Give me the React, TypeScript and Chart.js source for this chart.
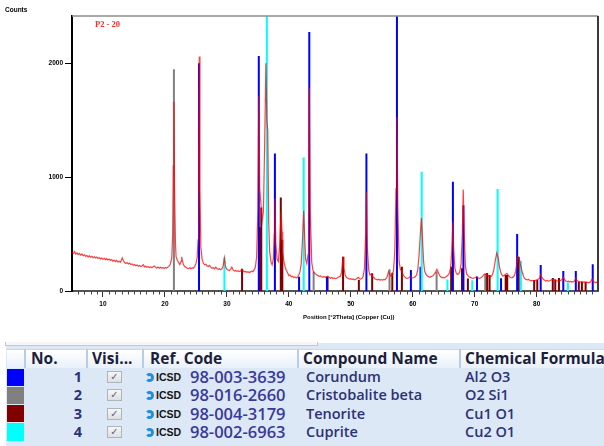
import React, { useEffect, useRef } from "react";
import { Chart, registerables } from "chart.js";

Chart.register(...registerables);

// Observed pattern P2 - 20: [2Theta, counts]
const profile: [number, number][] = [
  [5.0, 340], [5.2, 330], [5.4, 345], [5.6, 325], [5.8, 335], [6.0, 320], [6.2, 330], [6.4, 315], [6.6, 325], [6.8, 310],
  [7.0, 318], [7.2, 305], [7.4, 312], [7.6, 300], [7.8, 308], [8.0, 296], [8.2, 305], [8.4, 292], [8.6, 300], [8.8, 290],
  [9.0, 298], [9.2, 286], [9.4, 294], [9.6, 282], [9.8, 290], [10.0, 280], [10.2, 288], [10.4, 276], [10.6, 284], [10.8, 272],
  [11.0, 280], [11.2, 268], [11.4, 276], [11.6, 262], [11.8, 272], [12.0, 258], [12.2, 268], [12.4, 255], [12.6, 262], [12.8, 252],
  [13.0, 275], [13.1, 290], [13.3, 265], [13.5, 250], [13.7, 242], [13.9, 250], [14.1, 238], [14.3, 245], [14.5, 232], [14.7, 238],
  [14.9, 226], [15.1, 232], [15.3, 222], [15.5, 228], [15.7, 218], [15.9, 224], [16.1, 214], [16.3, 220], [16.5, 230], [16.7, 212],
  [16.9, 218], [17.1, 208], [17.3, 214], [17.5, 206], [17.7, 212], [17.9, 204], [18.1, 214], [18.3, 220], [18.5, 208], [18.7, 202],
  [18.9, 210], [19.1, 200], [19.3, 208], [19.5, 200], [19.7, 206], [19.9, 198], [20.1, 206], [20.3, 202], [20.5, 212], [20.7, 220],
  [20.9, 240], [21.1, 290], [21.25, 500], [21.35, 1100], [21.45, 1660], [21.55, 900], [21.7, 420], [21.8, 300], [22.0, 270], [22.2, 250],
  [22.4, 232], [22.6, 260], [22.7, 300], [22.8, 270], [23.0, 230], [23.2, 215], [23.4, 208], [23.6, 200], [23.8, 196], [24.0, 204],
  [24.2, 195], [24.4, 205], [24.6, 200], [24.8, 215], [25.0, 240], [25.2, 290], [25.35, 450], [25.45, 1200], [25.55, 2060], [25.65, 900],
  [25.8, 380], [26.0, 280], [26.2, 245], [26.4, 230], [26.6, 235], [26.8, 220], [27.0, 215], [27.2, 225], [27.4, 210], [27.6, 200],
  [27.8, 205], [28.0, 195], [28.2, 210], [28.4, 198], [28.6, 190], [28.8, 196], [29.0, 186], [29.2, 195], [29.4, 220], [29.6, 290],
  [29.8, 210], [30.0, 190], [30.2, 185], [30.4, 180], [30.6, 190], [30.8, 210], [31.0, 185], [31.2, 175], [31.4, 180], [31.6, 172],
  [31.8, 178], [32.0, 170], [32.2, 175], [32.4, 190], [32.6, 178], [32.8, 168], [33.0, 172], [33.2, 165], [33.4, 170], [33.6, 162],
  [33.8, 168], [34.0, 175], [34.2, 170], [34.4, 185], [34.6, 210], [34.8, 300], [35.0, 700], [35.15, 1710], [35.3, 900], [35.5, 760],
  [35.7, 620], [35.9, 700], [36.1, 1300], [36.3, 2000], [36.45, 1500], [36.6, 1410], [36.75, 600], [36.9, 350], [37.1, 260], [37.3, 230],
  [37.5, 280], [37.65, 500], [37.75, 810], [37.9, 420], [38.1, 280], [38.3, 260], [38.5, 380], [38.75, 700], [38.9, 520], [39.0, 340],
  [39.2, 260], [39.4, 210], [39.6, 180], [39.8, 160], [40.0, 135], [40.2, 140], [40.4, 125], [40.6, 130], [40.8, 118], [41.0, 124],
  [41.2, 115], [41.4, 122], [41.6, 140], [41.8, 170], [42.0, 240], [42.2, 450], [42.4, 704], [42.55, 480], [42.7, 280], [42.9, 240],
  [43.1, 320], [43.2, 900], [43.3, 1780], [43.45, 700], [43.7, 250], [43.9, 180], [44.1, 160], [44.3, 150], [44.5, 140], [44.7, 135],
  [44.9, 128], [45.1, 132], [45.3, 125], [45.5, 120], [45.7, 128], [45.9, 118], [46.1, 125], [46.3, 130], [46.5, 120], [46.7, 112],
  [46.9, 118], [47.1, 110], [47.3, 115], [47.5, 108], [47.7, 112], [47.9, 118], [48.1, 125], [48.3, 130], [48.5, 160], [48.65, 250],
  [48.75, 300], [48.9, 200], [49.1, 140], [49.3, 118], [49.6, 110], [49.8, 104], [50.0, 108], [50.2, 100], [50.4, 106], [50.6, 98],
  [50.8, 104], [51.0, 112], [51.2, 120], [51.4, 108], [51.6, 104], [51.8, 112], [52.0, 130], [52.2, 200], [52.4, 500], [52.52, 871],
  [52.65, 400], [52.9, 180], [53.1, 140], [53.3, 150], [53.5, 130], [53.7, 118], [53.9, 108], [54.1, 102], [54.3, 98], [54.5, 104],
  [54.7, 96], [54.9, 100], [55.1, 95], [55.3, 102], [55.5, 98], [55.7, 110], [55.9, 130], [56.1, 170], [56.3, 150], [56.5, 130],
  [56.7, 140], [56.9, 180], [57.1, 350], [57.3, 900], [57.45, 1530], [57.6, 700], [57.8, 260], [58.0, 190], [58.2, 175], [58.4, 150],
  [58.6, 130], [58.8, 118], [59.0, 110], [59.2, 112], [59.4, 118], [59.6, 125], [59.8, 118], [60.0, 115], [60.2, 118], [60.4, 125],
  [60.6, 140], [60.8, 180], [61.0, 300], [61.25, 520], [61.4, 640], [61.55, 480], [61.75, 260], [61.9, 180], [62.1, 150], [62.3, 135],
  [62.5, 128], [62.7, 120], [62.9, 124], [63.1, 130], [63.3, 135], [63.5, 150], [63.7, 165], [63.9, 190], [64.1, 165], [64.3, 140],
  [64.5, 125], [64.7, 118], [64.9, 120], [65.1, 115], [65.3, 122], [65.5, 130], [65.7, 140], [65.9, 155], [66.1, 200], [66.3, 350],
  [66.48, 608], [66.6, 380], [66.8, 200], [67.0, 160], [67.2, 145], [67.4, 150], [67.6, 170], [67.8, 240], [68.0, 500], [68.15, 892],
  [68.3, 520], [68.5, 220], [68.7, 150], [68.9, 135], [69.1, 125], [69.3, 120], [69.5, 115], [69.7, 110], [69.9, 114], [70.1, 118],
  [70.3, 124], [70.5, 115], [70.7, 110], [70.9, 114], [71.1, 120], [71.3, 130], [71.5, 145], [71.7, 150], [71.9, 145], [72.1, 140],
  [72.3, 130], [72.5, 125], [72.7, 130], [72.9, 150], [73.1, 190], [73.3, 260], [73.55, 333], [73.8, 290], [74.0, 210], [74.2, 165],
  [74.4, 140], [74.6, 132], [74.8, 138], [75.0, 148], [75.2, 155], [75.4, 140], [75.6, 125], [75.8, 118], [76.0, 115], [76.2, 122],
  [76.4, 135], [76.6, 170], [76.8, 240], [76.95, 300], [77.15, 290], [77.35, 240], [77.55, 195], [77.7, 160], [77.9, 125], [78.1, 108],
  [78.3, 102], [78.5, 98], [78.7, 102], [78.9, 95], [79.1, 90], [79.3, 94], [79.5, 88], [79.7, 92], [79.9, 96], [80.1, 100],
  [80.3, 105], [80.5, 115], [80.65, 145], [80.9, 115], [81.1, 100], [81.3, 94], [81.5, 88], [81.7, 92], [81.9, 86], [82.1, 90],
  [82.3, 95], [82.5, 100], [82.7, 104], [82.9, 98], [83.1, 92], [83.3, 88], [83.5, 84], [83.7, 88], [83.9, 94], [84.1, 100],
  [84.3, 120], [84.5, 100], [84.7, 88], [84.9, 82], [85.1, 86], [85.3, 80], [85.5, 84], [85.7, 78], [85.9, 82], [86.1, 88],
  [86.3, 110], [86.5, 94], [86.7, 86], [86.9, 82], [87.1, 78], [87.3, 82], [87.5, 76], [87.7, 80], [87.9, 74], [88.1, 78],
  [88.3, 72], [88.5, 76], [88.7, 80], [88.95, 105], [89.1, 86], [89.3, 78], [89.5, 74], [89.7, 78], [89.9, 72],
];

// Reference patterns (stick positions [2Theta], heights [counts])
const corundum: [number, number][] = [
  [25.5, 2000], [35.15, 2064], [37.75, 1207], [41.65, 125], [43.3, 2275], [46.15, 125], [52.52, 1207], [57.45, 2500],
  [59.7, 184], [61.25, 213], [66.48, 959], [68.18, 754], [70.37, 128], [74.25, 112], [76.85, 500], [80.65, 228],
  [84.3, 175], [86.32, 175], [89.05, 236],
];
const cristobalite: [number, number][] = [
  [21.45, 1947], [44.0, 170], [56.25, 190], [63.85, 170], [71.7, 150],
];
const tenorite: [number, number][] = [
  [32.45, 196], [35.35, 560], [35.55, 734], [38.7, 822], [38.95, 450], [46.25, 125], [48.75, 301], [51.3, 96],
  [53.45, 155], [56.7, 160], [58.25, 213], [66.2, 213], [67.95, 200], [68.9, 110], [72.0, 158], [72.4, 140],
  [75.0, 140], [75.25, 140], [77.1, 300], [79.6, 96], [80.1, 96], [82.6, 114], [83.0, 100], [83.6, 114],
  [86.8, 82], [87.3, 82], [87.9, 82],
];
const cuprite: [number, number][] = [
  [29.6, 292], [36.45, 2500], [42.4, 1172], [61.45, 1047], [65.6, 100], [69.6, 95], [73.7, 895], [77.45, 265], [85.05, 75],
];

const xTickValues = [10, 20, 30, 40, 50, 60, 70, 80];
const yTickValues = [0, 1000, 2000];

// Table content
const phaseColors = ["#0000ff", "#808080", "#800000", "#00ffff"];
const phaseNumbers = ["1", "2", "3", "4"];
const refCodes = ["98-003-3639", "98-016-2660", "98-004-3179", "98-002-6963"];
const compoundNames = ["Corundum", "Cristobalite beta", "Tenorite", "Cuprite"];
const chemicalFormulas = ["Al2 O3", "O2 Si1", "Cu1 O1", "Cu2 O1"];
const headerLabels = ["No.", "Visi...", "Ref. Code", "Compound Name", "Chemical Formula"];

function sticks(list: [number, number][]) {
  const out: { x: number; y: number | null }[] = [];
  list.forEach(([p, h]) => {
    out.push({ x: p, y: 0 }, { x: p, y: h }, { x: p, y: null });
  });
  return out;
}

const framePlugin = {
  id: "frame",
  afterDraw(chart: any) {
    const { ctx, chartArea: a, scales } = chart;
    ctx.save();
    ctx.strokeStyle = "#8c8c8c";
    ctx.lineWidth = 1.5;
    ctx.beginPath();
    ctx.moveTo(a.left, a.top);
    ctx.lineTo(a.right, a.top);
    ctx.stroke();
    ctx.strokeStyle = "#3a3a3a";
    ctx.lineWidth = 2;
    ctx.beginPath();
    ctx.moveTo(a.right, a.top);
    ctx.lineTo(a.right, a.bottom);
    ctx.stroke();
    // minor ticks every degree
    const xs = scales.x;
    ctx.strokeStyle = "#444";
    ctx.lineWidth = 1;
    ctx.beginPath();
    for (let v = 6; v <= 89; v++) {
      if (v % 10 === 0) continue;
      const px = Math.round(xs.getPixelForValue(v)) + 0.5;
      ctx.moveTo(px, a.bottom);
      ctx.lineTo(px, a.bottom + 3.5);
    }
    ctx.stroke();
    ctx.restore();
  },
};

const tickFont = { family: "'Liberation Sans', Arial, sans-serif", size: 6.5, weight: "bold" as const };

const ROW_TOP = 368;
const ROW_H = 18.3;
const colX = [7, 25, 87, 143, 298, 460, 604];
const navy = "#2b3275";

export default function App() {
  const ref = useRef<HTMLCanvasElement>(null);

  useEffect(() => {
    const stickDs = (data: [number, number][], color: string, order: number) => ({
      data: sticks(data),
      borderColor: color,
      borderWidth: 2,
      pointRadius: 0,
      spanGaps: false,
      order,
    });
    const chart = new Chart(ref.current!, {
      type: "line",
      data: {
        datasets: [
          {
            data: profile.map(([x, y]) => ({ x, y })),
            borderColor: "rgba(255,0,0,0.75)",
            borderWidth: 1.2,
            pointRadius: 0,
            tension: 0,
            order: 0,
          },
          stickDs(cuprite, "#00ffff", 1),
          stickDs(corundum, "#0000ff", 2),
          stickDs(tenorite, "#800000", 3),
          stickDs(cristobalite, "#808080", 4),
        ] as any,
      },
      options: {
        responsive: false,
        animation: false,
        devicePixelRatio: 1,
        layout: { padding: { left: 0, right: 6, top: 16, bottom: 0 } },
        plugins: { legend: { display: false }, tooltip: { enabled: false } },
        elements: { point: { radius: 0 } },
        scales: {
          x: {
            type: "linear",
            min: 5,
            max: 89.9,
            afterFit: (s: any) => {
              s.height = 29;
            },
            afterBuildTicks: (s: any) => {
              s.ticks = xTickValues.map((v) => ({ value: v }));
            },
            grid: { drawOnChartArea: false, tickLength: 6, color: "#333", tickWidth: 1 },
            border: { color: "#555", width: 2 },
            ticks: {
              font: tickFont,
              color: "#000",
              padding: 3,
              maxRotation: 0,
              autoSkip: false,
              callback: (v: any) => String(v),
            },
          },
          y: {
            type: "linear",
            min: 0,
            max: 2415,
            afterFit: (s: any) => {
              s.width = 72;
            },
            afterBuildTicks: (s: any) => {
              s.ticks = yTickValues.map((v) => ({ value: v }));
            },
            grid: { drawOnChartArea: false, tickLength: 7, color: "#000", tickWidth: 1 },
            border: { color: "#000", width: 2 },
            ticks: { font: tickFont, color: "#000", padding: 2, autoSkip: false, callback: (v: any) => String(v) },
          },
        },
      } as any,
      plugins: [framePlugin],
    });
    return () => chart.destroy();
  }, []);

  const headerFont: React.CSSProperties = {
    position: "absolute",
    top: 349,
    height: 19,
    lineHeight: "19px",
    fontFamily: "'Open Sans', sans-serif",
    fontWeight: 700,
    fontSize: 15.5,
    color: "#1c1f3a",
    whiteSpace: "nowrap",
  };
  const cellFont: React.CSSProperties = {
    position: "absolute",
    height: ROW_H,
    lineHeight: ROW_H + "px",
    fontFamily: "'Open Sans', sans-serif",
    fontWeight: 600,
    fontSize: 14.5,
    color: navy,
    whiteSpace: "nowrap",
  };

  return (
    <div
      style={{
        position: "absolute",
        left: 0,
        top: 0,
        width: 604,
        height: 446,
        background: "#fff",
        overflow: "hidden",
      }}
    >
      <canvas
        ref={ref}
        width={604}
        height={320}
        style={{ position: "absolute", left: 0, top: 0, width: 604, height: 320 }}
      />
      <div
        style={{
          position: "absolute",
          left: 5,
          top: 6,
          font: "bold 6.5px 'Liberation Sans', Arial, sans-serif",
          color: "#000",
        }}
      >
        Counts
      </div>
      <div
        style={{
          position: "absolute",
          left: 95,
          top: 19,
          font: "bold 8.5px 'Liberation Serif', 'Times New Roman', serif",
          color: "#ff2a2a",
        }}
      >
        P2 - 20
      </div>
      <div
        style={{
          position: "absolute",
          left: 303,
          top: 314,
          font: "bold 6px 'Liberation Sans', Arial, sans-serif",
          color: "#000",
          whiteSpace: "nowrap",
        }}
      >
        Position [°2Theta] (Copper (Cu))
      </div>

      {/* table area */}
      <div style={{ position: "absolute", left: 6, top: 343, width: 598, height: 103, background: "#dde8f6" }} />
      <div
        style={{
          position: "absolute",
          left: 5,
          top: 342,
          width: 311,
          height: 3,
          background: "#f6f6f6",
          border: "1px solid #c4c8ce",
          borderTop: "none",
        }}
      />
      {/* header */}
      <div
        style={{
          position: "absolute",
          left: 7,
          top: 349,
          width: 597,
          height: 19,
          background: "linear-gradient(#ffffff, #e9f0fa)",
          borderTop: "1px solid #c9d8ec",
          boxSizing: "border-box",
        }}
      />
      {colX.slice(1, 6).map((x, i) => (
        <div
          key={"sep" + i}
          style={{ position: "absolute", left: x - 1, top: 349, width: 1.5, height: 19, background: "#b9cce6" }}
        />
      ))}
      <div style={{ ...headerFont, left: 31 }}>{headerLabels[0]}</div>
      <div style={{ ...headerFont, left: 92 }}>{headerLabels[1]}</div>
      <div style={{ ...headerFont, left: 150 }}>{headerLabels[2]}</div>
      <div style={{ ...headerFont, left: 303 }}>{headerLabels[3]}</div>
      <div style={{ ...headerFont, left: 465 }}>{headerLabels[4]}</div>

      {phaseNumbers.map((n, i) => {
        const top = ROW_TOP + i * ROW_H;
        return (
          <React.Fragment key={"row" + i}>
            <div
              style={{
                position: "absolute",
                left: 7,
                top: top + 0.5,
                width: 17,
                height: ROW_H - 1,
                background: phaseColors[i],
              }}
            />
            <div style={{ ...cellFont, top, left: 25, width: 57, textAlign: "right", fontWeight: 700 }}>{n}</div>
            <div
              style={{
                position: "absolute",
                left: 107,
                top: top + 3,
                width: 15,
                height: 12,
                boxSizing: "border-box",
                border: "1px solid #aeb4bc",
                background: "linear-gradient(#f7f7f7, #dedfe2)",
                color: "#56648a",
                fontFamily: "'DejaVu Sans', sans-serif",
                fontWeight: 700,
                fontSize: 10,
                lineHeight: "10px",
                textAlign: "center",
              }}
            >
              ✓
            </div>
            <div
              style={{
                position: "absolute",
                left: 145,
                top: top + 5,
                width: 9,
                height: 9,
                boxSizing: "border-box",
                borderRadius: "50%",
                border: "3px solid #1f8fd8",
                borderLeftColor: "transparent",
              }}
            />
            <div
              style={{
                ...cellFont,
                top,
                left: 156,
                fontFamily: "'Liberation Sans', Arial, sans-serif",
                fontWeight: 700,
                fontSize: 10.5,
                color: "#151515",
              }}
            >
              ICSD
            </div>
            <div style={{ ...cellFont, top, left: 190, fontSize: 16.5, color: "#39399a", fontWeight: 600 }}>
              {refCodes[i]}
            </div>
            <div style={{ ...cellFont, top, left: 306 }}>{compoundNames[i]}</div>
            <div style={{ ...cellFont, top, left: 465 }}>{chemicalFormulas[i]}</div>
          </React.Fragment>
        );
      })}
    </div>
  );
}
